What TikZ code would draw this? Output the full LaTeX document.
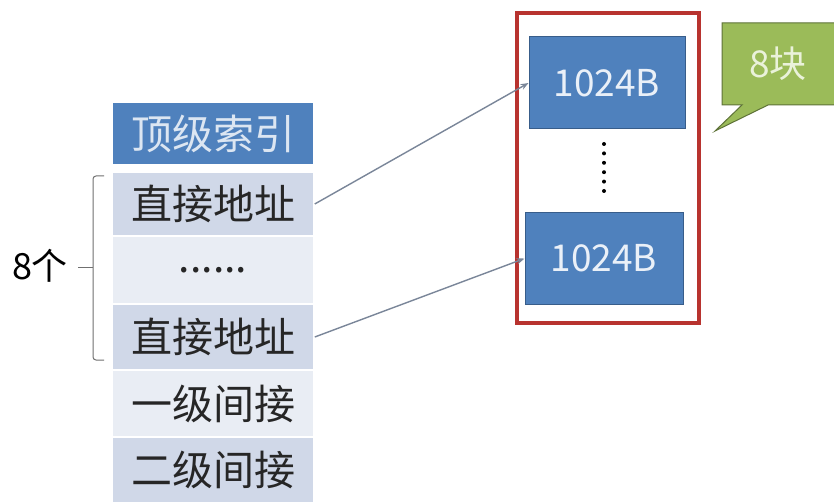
\documentclass[tikz,border=0pt]{standalone}
\usepackage{fontspec}
\setmainfont{Noto Sans CJK SC}
\usetikzlibrary{arrows.meta}
\definecolor{hdrblue}{HTML}{4F81BD}
\definecolor{hdrtext}{HTML}{DCE6F2}
\definecolor{rowdark}{HTML}{D0D8E8}
\definecolor{rowlight}{HTML}{E9EDF4}
\definecolor{rowtext}{HTML}{262626}
\definecolor{blkborder}{HTML}{385D8A}
\definecolor{blktext}{HTML}{EAF0F8}
\definecolor{redframe}{HTML}{B8332F}
\definecolor{callfill}{HTML}{9BBB59}
\definecolor{callborder}{HTML}{5E7238}
\definecolor{calltext}{HTML}{EAF2DA}
\definecolor{arrowgray}{HTML}{7A8699}
\definecolor{bracegray}{HTML}{707070}
\tikzset{
  cell/.style={minimum width=202pt, inner sep=0pt, draw=white, line width=1.5pt,
    font=\fontsize{41}{41}\selectfont, text=rowtext},
  hdrcell/.style={cell, fill=hdrblue, text=hdrtext},
  darkcell/.style={cell, fill=rowdark},
  lightcell/.style={cell, fill=rowlight},
  blockbox/.style={fill=hdrblue, draw=blkborder, line width=1pt, inner sep=0pt,
    text=blktext, font=\fontsize{37}{37}\selectfont},
  link/.style={draw=arrowgray, line width=1.4pt, -{Stealth[length=8pt,width=6pt]}},
}
\begin{document}
\begin{tikzpicture}[x=1pt,y=-1pt]
\useasboundingbox (0,0) rectangle (834,502);
\fill[white] (0,0) rectangle (834,502);
% table
\node[hdrcell, minimum height=62pt] (r1) at (213,133.5) {顶级索引};
\node[darkcell, minimum height=64pt] (r2) at (213,204) {直接地址};
\node[lightcell, minimum height=68pt] (r3) at (213,270) {......};
\node[darkcell, minimum height=66pt] (r4) at (213,337) {直接地址};
\node[lightcell, minimum height=67pt] (r5) at (213,403.5) {一级间接};
\node[darkcell, minimum height=66pt] (r6) at (213,470) {二级间接};
% brace
\draw[bracegray, line width=1pt, rounded corners=3pt] (104,176) -- (93,176) -- (93,360) -- (104,360);
\draw[bracegray, line width=1pt] (93,268) -- (78,268);
\node[font=\fontsize{36}{36}\selectfont, text=black, inner sep=0pt] (cnt) at (40,266) {8个};
% red frame
\draw[redframe, line width=4pt] (517,13) rectangle (699,323);
% blocks
\node[blockbox, minimum width=156pt, minimum height=92pt] (b1) at (607,83) {1024B};
\node[blockbox, minimum width=158pt, minimum height=91pt] (b2) at (604,258.5) {1024B};
\foreach \i in {0,...,5} \fill[black] (604,{144+9.4*\i}) circle (2pt);
% callout
\filldraw[fill=callfill, draw=callborder, line width=1pt]
  (722,23) -- (840,23) -- (840,105) -- (768,105) -- (715,131) -- (742,105) -- (722,105) -- cycle;
\node[font=\fontsize{37}{37}\selectfont, text=calltext, inner sep=0pt] (cap) at (778,64) {8块};
% connectors
\draw[link] (r2.east) -- (b1.west);
\draw[link] (r4.east) -- (b2.west);
\end{tikzpicture}
\end{document}
